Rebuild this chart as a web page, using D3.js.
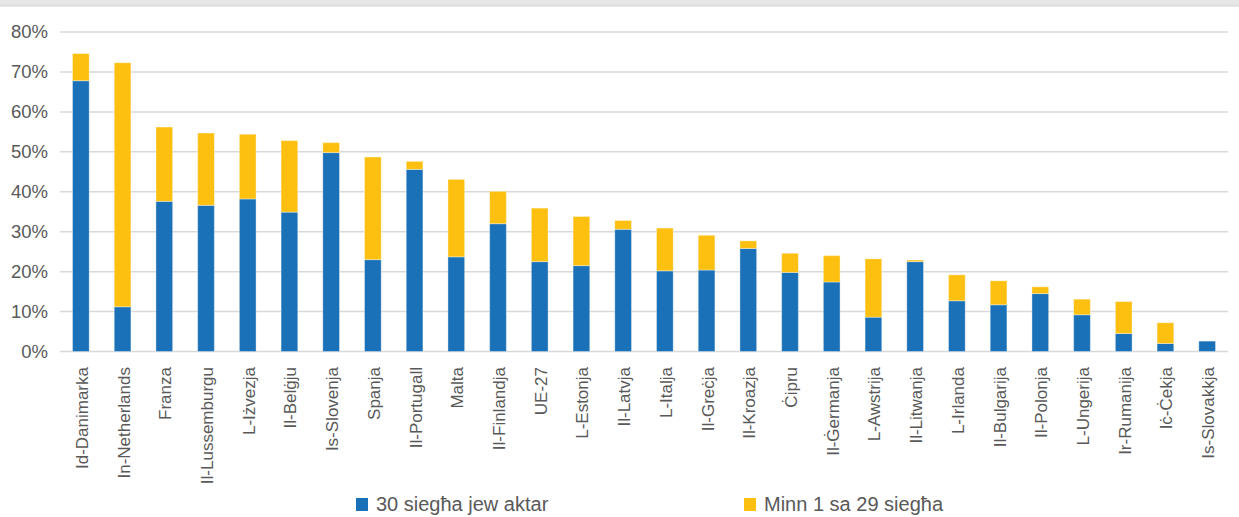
<!DOCTYPE html>
<html>
<head>
<meta charset="utf-8">
<script src="https://cdn.jsdelivr.net/npm/d3@7"></script>
<style>
  html, body { margin: 0; padding: 0; background: #fff; }
  svg { display: block; font-family: "Liberation Sans", Arial, sans-serif; }
</style>
</head>
<body>
<svg id="chart" width="1239" height="517"></svg>
<script>
const categories = ["Id-Danimarka","In-Netherlands","Franza","Il-Lussemburgu","L-Iżvezja","Il-Belġju","Is-Slovenja","Spanja","Il-Portugall","Malta","Il-Finlandja","UE-27","L-Estonja","Il-Latvja","L-Italja","Il-Greċja","Il-Kroazja","Ċipru","Il-Ġermanja","L-Awstrija","Il-Litwanja","L-Irlanda","Il-Bulgarija","Il-Polonja","L-Ungerija","Ir-Rumanija","Iċ-Ċekja","Is-Slovakkja"];
const hours30plus = [67.8, 11.2, 37.6, 36.6, 38.2, 34.9, 49.8, 23.0, 45.6, 23.7, 32.0, 22.5, 21.5, 30.6, 20.2, 20.4, 25.8, 19.8, 17.4, 8.6, 22.5, 12.7, 11.7, 14.5, 9.2, 4.5, 2.0, 2.6];
const hours1to29 = [6.8, 61.1, 18.6, 18.1, 16.2, 17.9, 2.5, 25.7, 2.0, 19.4, 8.1, 13.4, 12.3, 2.2, 10.7, 8.7, 1.9, 4.8, 6.6, 14.6, 0.4, 6.5, 6.0, 1.7, 3.9, 8.0, 5.2, 0.0];
const seriesNames = ["30 siegħa jew aktar", "Minn 1 sa 29 siegħa"];
const seriesColors = ["#1a71b8", "#fdc010"];
const yTicks = [0, 10, 20, 30, 40, 50, 60, 70, 80];

const svg = d3.select("#chart");
const W = 1239, H = 517;
const textColor = "#595959";

// top band
svg.append("rect").attr("x", 0).attr("y", 0).attr("width", W).attr("height", 6).attr("fill", "#e6e6e6");
svg.append("line").attr("x1", 0).attr("x2", W).attr("y1", 6).attr("y2", 6).attr("stroke", "#d4d4d4").attr("stroke-width", 1);

const x = d3.scaleBand().domain(categories).range([60, 1228]).paddingInner(0.6).paddingOuter(0.3);
const y = d3.scaleLinear().domain([0, 80]).range([351.5, 32]);

// gridlines
svg.append("g").selectAll("line").data(yTicks).join("line")
  .attr("x1", 60).attr("x2", 1228)
  .attr("y1", d => y(d)).attr("y2", d => y(d))
  .attr("stroke", "#d9d9d9").attr("stroke-width", 1.5);

// y labels
svg.append("g").selectAll("text").data(yTicks).join("text")
  .attr("x", 48).attr("y", d => y(d)).attr("dy", "0.35em")
  .attr("text-anchor", "end").attr("fill", textColor)
  .style("font-size", "18.5px")
  .text(d => d + "%");

// stacked bars
const rows = categories.map((c, i) => ({ cat: c, a: hours30plus[i], b: hours1to29[i] }));
const stack = d3.stack().keys(["a", "b"])(rows);
svg.append("g").selectAll("g").data(stack).join("g")
  .attr("fill", (d, i) => seriesColors[i])
  .selectAll("rect").data(d => d).join("rect")
  .attr("x", d => x(d.data.cat))
  .attr("width", x.bandwidth())
  .attr("y", d => y(d[1]))
  .attr("height", d => Math.max(0, y(d[0]) - y(d[1])))
  .attr("stroke", "rgba(255,255,255,0.35)").attr("stroke-width", 1);

// x labels
svg.append("g").selectAll("text").data(categories).join("text")
  .attr("transform", d => `translate(${x(d) + x.bandwidth() / 2 + 1},367) rotate(-90)`)
  .attr("dy", "0.35em")
  .attr("text-anchor", "end").attr("fill", textColor)
  .style("font-size", "17px")
  .text(d => d);

// legend
const legendX = [356, 744];
const lg = svg.append("g").selectAll("g").data(seriesNames).join("g")
  .attr("transform", (d, i) => `translate(${legendX[i]},0)`);
lg.append("rect").attr("x", 0).attr("y", 498).attr("width", 12).attr("height", 13)
  .attr("fill", (d, i) => seriesColors[i]);
lg.append("text").attr("x", 20).attr("y", 511)
  .attr("fill", textColor).style("font-size", "20px")
  .text(d => d);
</script>
</body>
</html>
